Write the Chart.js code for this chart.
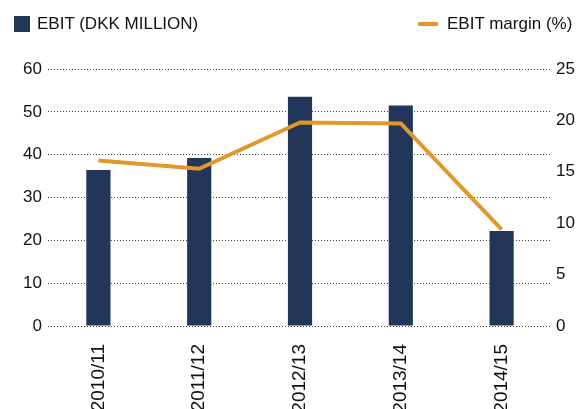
<!DOCTYPE html>
<html>
<head>
<meta charset="utf-8">
<script src="https://cdn.jsdelivr.net/npm/chart.js@4"></script>
<style>
  html, body { margin: 0; padding: 0; background: #fff; }
  #wrap { position: relative; width: 579px; height: 409px; overflow: hidden; }
  .leg { position: absolute; top: 13px; font: 17px "Liberation Sans", Arial, sans-serif; color: #111; line-height: 22px; white-space: nowrap; }
  .sw { position: absolute; }
</style>
</head>
<body>
<div id="wrap">
  <canvas id="chart" width="579" height="409"></canvas>
  <div class="sw" style="left:14px;top:16px;width:16px;height:16px;background:#22365a"></div>
  <div class="leg" style="left:37px">EBIT (DKK MILLION)</div>
  <div class="sw" style="left:418px;top:22px;width:20px;height:4px;background:#e0982a;border-radius:1px"></div>
  <div class="leg" style="left:447px">EBIT margin (%)</div>
</div>
<script>
const categories = ["2010/11", "2011/12", "2012/13", "2013/14", "2014/15"];
const ebit = [36.4, 39.2, 53.5, 51.5, 22.2];
const margin = [16.1, 15.3, 19.8, 19.7, 9.4];
const leftTicks = [0, 10, 20, 30, 40, 50, 60];
const rightTicks = [0, 5, 10, 15, 20, 25];

const font = { family: "'Liberation Sans', Arial, sans-serif", size: 17 };

new Chart(document.getElementById("chart"), {
  data: {
    labels: categories,
    datasets: [
      {
        type: "line",
        label: "EBIT margin (%)",
        data: margin,
        yAxisID: "y1",
        borderColor: "#e0982a",
        borderWidth: 4,
        pointRadius: 0,
        tension: 0,
        order: 0
      },
      {
        type: "bar",
        label: "EBIT (DKK MILLION)",
        data: ebit,
        yAxisID: "y",
        backgroundColor: "#22365a",
        barPercentage: 0.24,
        categoryPercentage: 1,
        order: 1
      }
    ]
  },
  options: {
    responsive: false,
    animation: false,
    layout: { padding: { top: 69, left: 0, right: 0, bottom: 0 } },
    plugins: { legend: { display: false }, tooltip: { enabled: false } },
    scales: {
      x: {
        offset: true,
        grid: { display: false, drawTicks: false },
        border: { display: false },
        ticks: { color: "#111", font: { family: font.family, size: 19 }, minRotation: 90, maxRotation: 90, padding: 18 },
        afterFit: s => { s.height = 83; }
      },
      y: {
        position: "left",
        min: 0,
        max: 60,
        afterBuildTicks: s => { s.ticks = leftTicks.map(v => ({ value: v })); },
        grid: { color: "#444", lineWidth: 1, drawTicks: false },
        border: { display: false, dash: [1, 2] },
        ticks: { color: "#111", font: font, padding: 6 },
        afterFit: s => { s.width = 48; }
      },
      y1: {
        position: "right",
        min: 0,
        max: 25,
        afterBuildTicks: s => { s.ticks = rightTicks.map(v => ({ value: v })); },
        grid: { display: false, drawTicks: false },
        border: { display: false },
        ticks: { color: "#111", font: font, padding: 4 },
        afterFit: s => { s.width = 27; }
      }
    }
  }
});
</script>
</body>
</html>
